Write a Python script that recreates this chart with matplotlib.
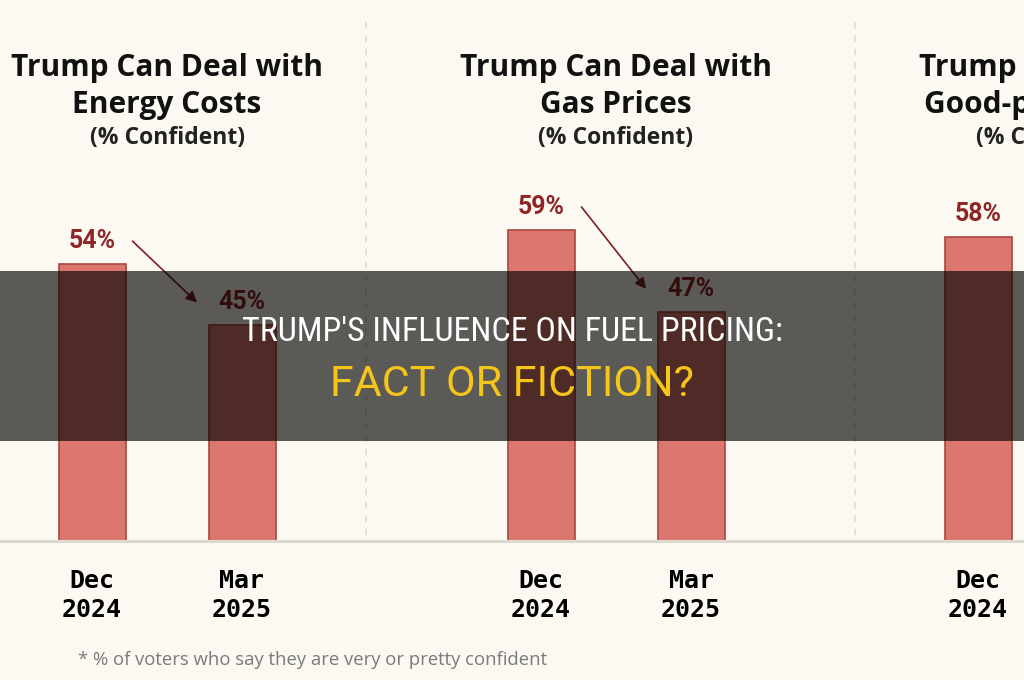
import matplotlib
matplotlib.use("Agg")
import matplotlib.pyplot as plt
from matplotlib import font_manager
from matplotlib.patches import Rectangle
from matplotlib.lines import Line2D
from matplotlib.transforms import blended_transform_factory, offset_copy

# --- data ---
periods = ["Dec\n2024", "Mar\n2025"]
energy_costs = [54, 45]
gas_prices = [59, 47]
good_jobs = [58]          # only the Dec 2024 bar is inside the frame
panel_titles = [
    ("Trump Can Deal with", "Energy Costs"),
    ("Trump Can Deal with", "Gas Prices"),
    ("Trump Can Create", "Good-paying Jobs"),
]
subtitle = "(% Confident)"
footnote = "* % of voters who say they are very or pretty confident"
banner_top = "TRUMP'S INFLUENCE ON FUEL PRICING:"
banner_bottom = "FACT OR FICTION?"

BG = "#fcf9f2"
BAR = "#db776f"
BAR_EDGE = "#a9463f"
RED_TXT = "#8f2626"
ARROW = "#7b1f1f"

W, H = 1024, 680

names = {f.name for f in font_manager.fontManager.ttflist}
narrow = next((n for n in ["Roboto Condensed", "Liberation Sans Narrow",
                           "Open Sans Condensed", "DejaVu Sans"] if n in names))
head_font = "Open Sans" if "Open Sans" in names else "Roboto"

fig = plt.figure(figsize=(W / 100, H / 100), dpi=100, facecolor=BG)


def fx(px):
    return px / W


def fy(py):
    return 1 - py / H


base_px, top_px = 541, 25
ymin, px_per_pct = 13.4, 6.82
ymax = ymin + (base_px - top_px) / px_per_pct

centers = [167, 616, 1053]
slot = 150
series = [energy_costs, gas_prices, good_jobs]

for c, vals, (t1, t2) in zip(centers, series, panel_titles):
    ax = fig.add_axes([fx(c - 1.5 * slot), fy(base_px),
                       fx(3 * slot), (base_px - top_px) / H])
    ax.patch.set_alpha(0)
    xs = list(range(len(vals)))
    ax.bar(xs, vals, width=67 / slot, color=BAR, edgecolor=BAR_EDGE,
           linewidth=1.2, zorder=2)
    ax.set_xlim(-1, 2)
    ax.set_ylim(ymin, ymax)
    for x, v in zip(xs, vals):
        ax.annotate(f"{v}%", (x, v), xytext=(0, 8), textcoords="offset points",
                    ha="center", va="bottom", fontsize=18, fontweight="bold",
                    color=RED_TXT, family="Roboto")
    if len(vals) == 2:
        start = offset_copy(ax.transData, fig=fig, x=0, y=23, units="dots")
        end = offset_copy(ax.transData, fig=fig, x=0, y=23, units="dots")
        ax.annotate("", xy=(0.70, vals[1]), xycoords=end,
                    xytext=(0.27, vals[0]), textcoords=start,
                    arrowprops=dict(arrowstyle="-|>", color=ARROW, lw=1.2,
                                    mutation_scale=16, shrinkA=0, shrinkB=0))
    ax.set_xticks(xs)
    ax.set_xticklabels(periods[:len(vals)], family="DejaVu Sans Mono",
                       fontweight="bold", fontsize=18, linespacing=1.25)
    ax.tick_params(axis="x", length=0, pad=20)
    ax.set_yticks([])
    for s in ax.spines.values():
        s.set_visible(False)

    tr = blended_transform_factory(ax.transAxes, fig.transFigure)
    ax.text(0.5, fy(76), t1, transform=tr, ha="center", va="baseline",
            fontsize=21.5, fontweight="bold", family=head_font, color="#111111")
    ax.text(0.5, fy(113), t2, transform=tr, ha="center", va="baseline",
            fontsize=21.5, fontweight="bold", family=head_font, color="#111111")
    ax.text(0.5, fy(144), subtitle, transform=tr, ha="center", va="baseline",
            fontsize=16.5, fontweight="bold", family=head_font, color="#222222")

# baseline and dashed separators
fig.add_artist(Line2D([0, 1], [fy(base_px), fy(base_px)], color="#dcd9cf", lw=2.2))
for sx in [366, 855]:
    fig.add_artist(Line2D([fx(sx), fx(sx)], [fy(22), fy(base_px)],
                          color="#dedbd3", lw=1.2, linestyle=(0, (4, 4))))

fig.text(fx(313), fy(660), footnote, ha="center", va="center", fontsize=13.3,
         family=head_font, color="#7a7a7a")

# dark banner across the middle
fig.add_artist(Rectangle((0, fy(441)), 1, (441 - 271) / H,
                         transform=fig.transFigure, facecolor="black",
                         alpha=0.64, edgecolor="none", zorder=10))
fig.text(0.5, fy(332), banner_top, ha="center", va="center", fontsize=24.5,
         family=[narrow, "DejaVu Sans"], color="white", zorder=11)
fig.text(0.5, fy(384), banner_bottom, ha="center", va="center", fontsize=31,
         family=["Roboto", "DejaVu Sans"], color="#f5c518", zorder=11)

fig.savefig("out.png", dpi=100, facecolor=BG)
